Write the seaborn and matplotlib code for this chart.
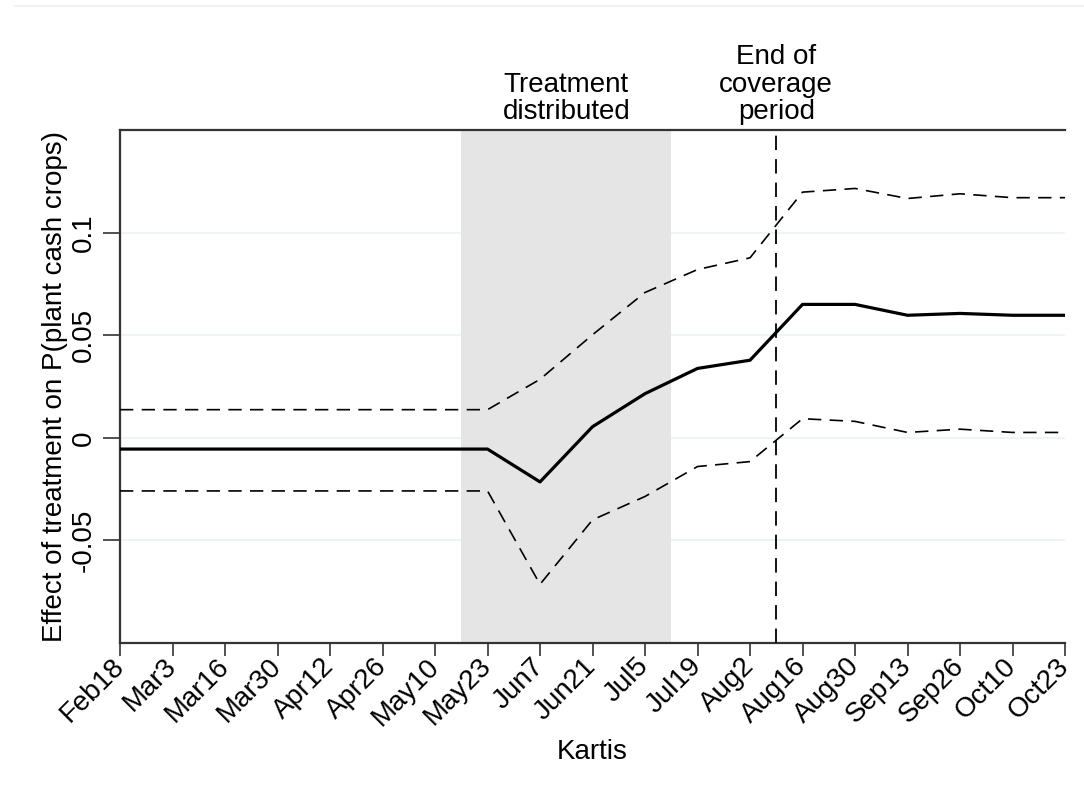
import numpy as np
import matplotlib
matplotlib.use('Agg')
import matplotlib.pyplot as plt
import seaborn as sns
from matplotlib.lines import Line2D

# Data
kartis = ['Feb18', 'Mar3', 'Mar16', 'Mar30', 'Apr12', 'Apr26', 'May10', 'May23',
          'Jun7', 'Jun21', 'Jul5', 'Jul19', 'Aug2', 'Aug16', 'Aug30', 'Sep13',
          'Sep26', 'Oct10', 'Oct23']
effect = [-0.0055, -0.0055, -0.0055, -0.0055, -0.0055, -0.0055, -0.0055, -0.0055,
          -0.0215, 0.0054, 0.0215, 0.0338, 0.0378, 0.0650, 0.0650, 0.0597,
          0.0606, 0.0597, 0.0597]
upper_ci = [0.0137, 0.0137, 0.0137, 0.0137, 0.0137, 0.0137, 0.0137, 0.0137,
            0.0285, 0.0502, 0.0708, 0.0820, 0.0877, 0.1197, 0.1215, 0.1166,
            0.1189, 0.1170, 0.1170]
lower_ci = [-0.0259, -0.0259, -0.0259, -0.0259, -0.0259, -0.0259, -0.0259, -0.0259,
            -0.0714, -0.0400, -0.0286, -0.0140, -0.0116, 0.0093, 0.0080, 0.0026,
            0.0042, 0.0026, 0.0026]
y_ticks = [-0.05, 0, 0.05, 0.1]
y_tick_labels = ['-0.05', '0', '0.05', '0.1']

treat_start, treat_end = 6.5, 10.5
coverage_end = 12.5

sns.set_style("white")
plt.rcParams['font.family'] = ['Liberation Sans', 'DejaVu Sans']
plt.rcParams['font.size'] = 20
plt.rcParams['text.color'] = 'black'
plt.rcParams['axes.labelcolor'] = 'black'
plt.rcParams['xtick.color'] = 'black'
plt.rcParams['ytick.color'] = 'black'

fig = plt.figure(figsize=(10.84, 7.91), dpi=100)
ax = fig.add_axes([0.1107, 0.1871, 0.8718, 0.6486])

idx = np.arange(len(kartis))

# grid lines first, shading on top of them
for yt in y_ticks:
    ax.axhline(yt, color='#edf3f3', lw=1.3, zorder=0)
ax.axvspan(treat_start, treat_end, color='#e5e5e5', lw=0, zorder=1)

sns.lineplot(x=idx, y=upper_ci, ax=ax, color='black', lw=1.2,
             linestyle=(0, (8, 5)), zorder=3)
sns.lineplot(x=idx, y=lower_ci, ax=ax, color='black', lw=1.2,
             linestyle=(0, (8, 5)), zorder=3)
sns.lineplot(x=idx, y=effect, ax=ax, color='black', lw=2.3, zorder=4)
ax.axvline(coverage_end, color='black', lw=1.3, linestyle=(0, (8, 5)), zorder=3)

ax.set_xlim(0, len(kartis) - 1)
ax.set_ylim(-0.1, 0.15)
ax.set_xticks(idx)
ax.set_xticklabels(kartis, rotation=45, ha='right', va='center',
                   rotation_mode='anchor')
ax.set_yticks(y_ticks)
ax.set_yticklabels(y_tick_labels, rotation=90, va='center')

ax.tick_params(axis='x', bottom=True, length=9, width=1.2, color='#333333',
               labelcolor='black', pad=5)
ax.tick_params(axis='y', left=True, length=12, width=1.2, color='#333333',
               labelcolor='black', pad=5)

for side in ['left', 'top', 'bottom']:
    ax.spines[side].set_color('#333333')
    ax.spines[side].set_linewidth(1.6)
ax.spines['right'].set_visible(False)

ax.set_xlabel('Kartis', labelpad=6)
ax.set_ylabel('Effect of treatment on P(plant cash crops)', labelpad=2)

# labels above the plot
trans = ax.get_xaxis_transform()
ax.text((treat_start + treat_end) / 2, 1.01, 'Treatment\ndistributed',
        transform=trans, ha='center', va='bottom', linespacing=1.06)
ax.text(coverage_end, 1.01, 'End of\ncoverage\nperiod',
        transform=trans, ha='center', va='bottom', linespacing=1.06)

# faint frame line at the very top
fig.add_artist(Line2D([0.014, 1.0], [0.993, 0.993], color='#eceff0', lw=1.2,
                      transform=fig.transFigure))

plt.savefig('out.png', dpi=100)
plt.close()
